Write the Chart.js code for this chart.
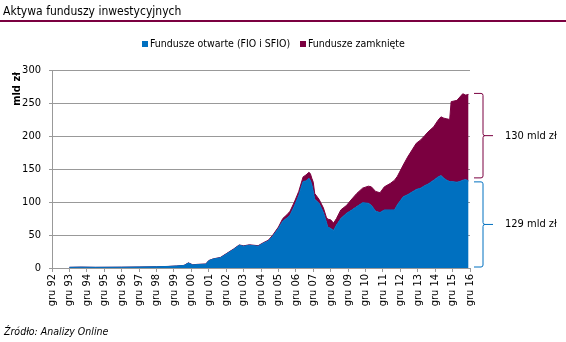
<!DOCTYPE html>
<html>
<head>
<meta charset="utf-8">
<script src="https://cdn.jsdelivr.net/npm/chart.js@4.4.1/dist/chart.umd.min.js"></script>
<style>
  body { margin: 0; background: #fff; }
</style>
</head>
<body>
<canvas id="graphContainer" width="566" height="342"></canvas>
<script>

// months counted from gru 92 (0) to gru 16 (288)
var months = [
    12, 20, 30, 48, 60, 72, 80, 86, 91, 94, 97, 100, 106, 108, 111, 116, 120, 125, 129, 132,
    136, 142, 146, 149, 152, 156, 159, 162, 164, 167, 170, 173, 175, 177, 178, 179, 180, 181, 184, 187,
    189, 190, 192, 194, 196, 199, 203, 206, 210, 214, 218, 220, 223, 226, 229, 233, 236, 238, 242, 245,
    251, 254, 257, 259, 263, 266, 268, 270, 272, 274, 275, 279, 281, 283, 285, 287
];

// fundusze otwarte (FIO i SFIO), mld zl
var openFunds = [
    1.0, 1.3, 1.0, 1.2, 1.5, 1.8, 2.3, 3.0, 3.8, 7.5, 4.5, 5.2, 5.8, 11, 13.5, 15.5, 21, 28, 34.5, 33,
    34.5, 33, 38, 41, 48, 60, 71, 76, 80, 94, 110, 131, 132, 136, 133, 126, 116, 104, 98, 84,
    70, 62, 60, 57, 65, 75, 83, 87, 93, 99, 98, 95, 86, 84, 88, 88, 88, 96, 108, 111,
    119, 121, 125, 127, 133, 138, 140, 136, 133, 131, 131, 130, 131, 133, 134, 132
];

// razem z funduszami zamknietymi (gorna krawedz), mld zl
var allFunds = [
    1.0, 1.3, 1.0, 1.2, 1.5, 1.9, 2.4, 3.1, 4.0, 7.8, 4.8, 5.5, 6.1, 11.3, 13.8, 16, 21.6, 28.6, 35, 33.6,
    35.2, 33.8, 38.8, 42, 49.5, 62, 75, 81, 86, 100, 116, 138, 141, 145, 143, 136, 130, 113, 104, 91,
    77, 74, 73, 68, 75, 88, 95, 103, 113, 121, 124, 123, 116, 114, 123, 128, 133, 139, 156, 168,
    189, 194, 201, 206, 214, 224, 229, 227, 226, 225, 252, 254, 259, 264, 262, 263
];

var seriesNames = ['Fundusze otwarte (FIO i SFIO)', 'Fundusze zamknięte'];
var yTicks = [0, 50, 100, 150, 200, 250, 300];

var blue = '#0070c0';
var purple = '#7b0040';
var font = "'Liberation Sans Narrow', 'DejaVu Sans Condensed', sans-serif";

var openPoints = months.map(function (m, i) { return { x: m, y: openFunds[i] }; });
var allPoints = months.map(function (m, i) { return { x: m, y: allFunds[i] }; });

// title, legend, axis title, brackets and source note
var decorations = {
    id: 'decorations',
    afterDraw: function (chart) {
        var c = chart.ctx;
        var y = chart.scales.y;
        c.save();

        c.fillStyle = '#000';
        c.font = '12px ' + font;
        c.textBaseline = 'middle';
        c.textAlign = 'left';
        c.fillText('Aktywa funduszy inwestycyjnych', 3, 12);

        c.strokeStyle = purple;
        c.lineWidth = 2;
        c.beginPath();
        c.moveTo(0, 21);
        c.lineTo(566, 21);
        c.stroke();

        // legend
        c.font = '10.5px ' + font;
        c.fillStyle = blue;
        c.fillRect(142, 41, 6, 6);
        c.fillStyle = '#000';
        c.fillText(seriesNames[0], 150, 44);
        c.fillStyle = purple;
        c.fillRect(300, 41, 6, 6);
        c.fillStyle = '#000';
        c.fillText(seriesNames[1], 308, 44);

        // axis title
        c.save();
        c.translate(17, 89);
        c.rotate(-Math.PI / 2);
        c.textAlign = 'center';
        c.font = 'bold 11px ' + font;
        c.fillText('mld zł', 0, 0);
        c.restore();

        // brackets
        var last = months.length - 1;
        function bracket(top, bottom, color, text) {
            var mid = (top + bottom) / 2;
            c.strokeStyle = color;
            c.lineWidth = 1;
            c.beginPath();
            c.moveTo(474, top);
            c.lineTo(481, top);
            c.quadraticCurveTo(483, top, 483, top + 2);
            c.lineTo(483, mid - 2);
            c.quadraticCurveTo(483, mid, 485, mid);
            c.lineTo(493, mid);
            c.moveTo(485, mid);
            c.quadraticCurveTo(483, mid, 483, mid + 2);
            c.lineTo(483, bottom - 2);
            c.quadraticCurveTo(483, bottom, 481, bottom);
            c.lineTo(474, bottom);
            c.stroke();
            c.fillStyle = '#000';
            c.font = '11px ' + font;
            c.fillText(text, 505, mid);
        }
        bracket(y.getPixelForValue(allFunds[last]) - 1, y.getPixelForValue(openFunds[last]) - 3, purple, '130 mld zł');
        bracket(y.getPixelForValue(openFunds[last]) + 1, y.getPixelForValue(0) - 1, blue, '129 mld zł');

        c.font = 'italic 10.5px ' + font;
        c.fillStyle = '#000';
        c.fillText('Źródło: Analizy Online', 4, 332);
        c.restore();
    }
};

var chart = new Chart(document.getElementById('graphContainer').getContext('2d'), {
    type: 'line',
    data: {
        datasets: [{
            label: seriesNames[0],
            data: openPoints,
            backgroundColor: blue,
            borderColor: blue,
            borderWidth: 1,
            pointRadius: 0,
            fill: 'origin'
        }, {
            label: seriesNames[1],
            data: allPoints,
            backgroundColor: purple,
            borderColor: purple,
            borderWidth: 1,
            pointRadius: 0,
            fill: '-1'
        }]
    },
    options: {
        responsive: false,
        animation: false,
        layout: { padding: { top: 70, right: 96, left: 0, bottom: 0 } },
        plugins: {
            legend: { display: false },
            tooltip: { enabled: false }
        },
        scales: {
            x: {
                type: 'linear',
                min: 0,
                max: 288,
                afterFit: function (scale) { scale.height = 74; },
                afterBuildTicks: function (scale) {
                    var t = [];
                    for (var m = 0; m <= 288; m += 12) t.push({ value: m });
                    scale.ticks = t;
                },
                ticks: {
                    autoSkip: false,
                    minRotation: 90,
                    maxRotation: 90,
                    padding: 2,
                    color: '#000',
                    font: { family: font, size: 11 },
                    callback: function (v) {
                        var yy = (92 + v / 12) % 100;
                        return 'gru ' + (yy < 10 ? '0' + yy : yy);
                    }
                },
                grid: { drawOnChartArea: false, drawTicks: true, tickLength: 4, color: '#999' },
                border: { color: '#999' }
            },
            y: {
                min: 0,
                max: 300,
                afterFit: function (scale) { scale.width = 52; },
                afterBuildTicks: function (scale) {
                    scale.ticks = yTicks.map(function (v) { return { value: v }; });
                },
                ticks: {
                    padding: 8,
                    color: '#000',
                    font: { family: font, size: 11 }
                },
                grid: { color: '#999', tickLength: 3 },
                border: { color: '#999' }
            }
        }
    },
    plugins: [decorations]
});
</script>
</body>
</html>
